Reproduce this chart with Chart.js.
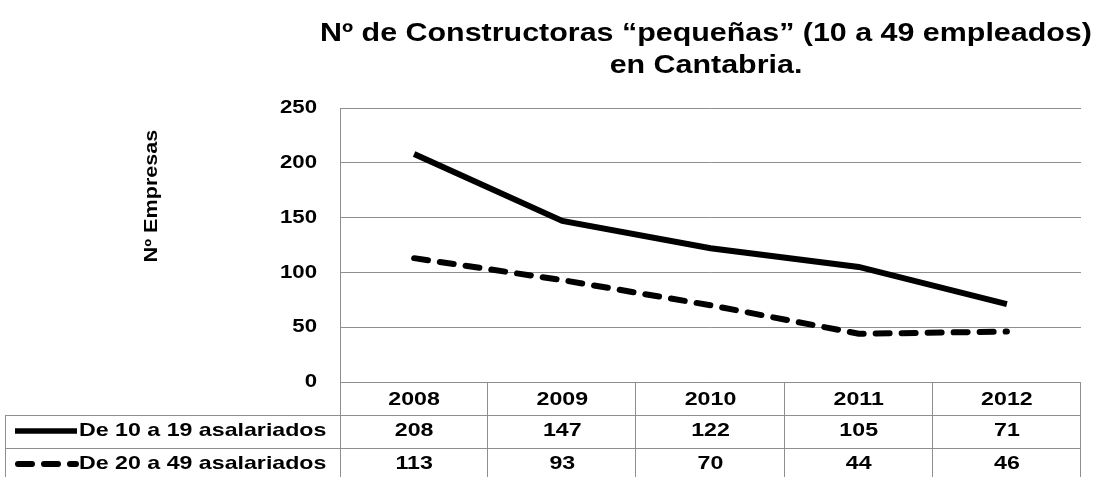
<!DOCTYPE html>
<html>
<head>
<meta charset="utf-8">
<script src="https://cdn.jsdelivr.net/npm/chart.js@4.4.0/dist/chart.umd.min.js"></script>
<style>
  html, body { margin: 0; padding: 0; background: #fff; }
  canvas { display: block; }
</style>
</head>
<body>
<canvas id="constructoras" width="1099" height="477"></canvas>
<script>
const years = ['2008', '2009', '2010', '2011', '2012'];
const de10a19 = [208, 147, 122, 105, 71];
const de20a49 = [113, 93, 70, 44, 46];
const seriesNames = ['De 10 a 19 asalariados', 'De 20 a 49 asalariados'];
const titleLines = ['Nº de Constructoras \u201cpeque\u00f1as\u201d (10 a 49 empleados)', 'en Cantabria.'];
const yTitle = 'Nº Empresas';

const FONT = '"Liberation Sans", Arial, sans-serif';
const GRID = '#8e8e8e';
const DASH = [14, 12];
const SX = 1.22;

// stretched text, the picture is wider than the original font
function sText(ctx, txt, x, y, align, sx) {
    ctx.save();
    ctx.translate(x, y);
    ctx.scale(sx, 1);
    ctx.textAlign = align;
    ctx.fillText(txt, 0, 0);
    ctx.restore();
}

function line(ctx, x1, y1, x2, y2) {
    ctx.beginPath();
    ctx.moveTo(x1, y1);
    ctx.lineTo(x2, y2);
    ctx.stroke();
}

const tablePlugin = {
    id: 'tablePlugin',
    afterDraw(chart) {
        const ctx = chart.ctx;
        const area = chart.chartArea;
        const xs = chart.scales.x;
        const ys = chart.scales.y;
        const colW = (area.right - area.left) / years.length;
        const row1 = area.bottom + 33;
        const row2 = area.bottom + 66;
        const bottom = chart.height;
        const left = 5;

        ctx.save();
        ctx.fillStyle = '#000';

        // title
        ctx.textBaseline = 'alphabetic';
        ctx.font = 'bold 26px ' + FONT;
        sText(ctx, titleLines[0], 706, 41, 'center', 1.17);
        sText(ctx, titleLines[1], 706, 73, 'center', 1.17);

        ctx.textBaseline = 'middle';
        // y title
        ctx.save();
        ctx.translate(152, 196);
        ctx.rotate(-Math.PI / 2);
        ctx.font = 'bold 18px ' + FONT;
        sText(ctx, yTitle, 0, 0, 'center', 1.2);
        ctx.restore();

        // y tick labels
        ctx.font = 'bold 19px ' + FONT;
        ys.ticks.forEach(t => {
            sText(ctx, String(t.value), area.left - 23, ys.getPixelForValue(t.value), 'right', 1.17);
        });

        // table grid
        ctx.strokeStyle = GRID;
        ctx.lineWidth = 1;
        line(ctx, area.left + 0.5, area.top, area.left + 0.5, bottom);
        line(ctx, area.left, area.bottom + 0.5, area.right, area.bottom + 0.5);
        line(ctx, left, row1 + 0.5, area.right, row1 + 0.5);
        line(ctx, left, row2 + 0.5, area.right, row2 + 0.5);
        line(ctx, left + 0.5, row1, left + 0.5, bottom);
        for (let i = 1; i <= years.length; i++) {
            const x = Math.round(area.left + colW * i) - 0.5;
            line(ctx, x, area.bottom, x, bottom);
        }

        // table values
        years.forEach((yr, i) => {
            const cx = xs.getPixelForValue(i);
            sText(ctx, yr, cx, area.bottom + 18, 'center', SX);
            sText(ctx, String(de10a19[i]), cx, row1 + 16, 'center', SX);
            sText(ctx, String(de20a49[i]), cx, row2 + 16, 'center', SX);
        });

        // legend keys
        sText(ctx, seriesNames[0], 79, row1 + 16, 'left', SX);
        sText(ctx, seriesNames[1], 79, row2 + 16, 'left', SX);
        ctx.strokeStyle = '#000';
        ctx.lineWidth = 5.5;
        line(ctx, 15, row1 + 16, 77, row1 + 16);
        ctx.lineWidth = 6;
        ctx.lineCap = 'round';
        ctx.setLineDash(DASH);
        line(ctx, 18, row2 + 16, 76, row2 + 16);
        ctx.restore();
    }
};

new Chart(document.getElementById('constructoras').getContext('2d'), {
    type: 'line',
    data: {
        labels: years,
        datasets: [
            {
                label: seriesNames[0],
                data: de10a19,
                borderColor: '#000',
                borderWidth: 6,
                pointRadius: 0,
                tension: 0
            },
            {
                label: seriesNames[1],
                data: de20a49,
                borderColor: '#000',
                borderWidth: 6,
                borderDash: DASH,
                borderCapStyle: 'round',
                pointRadius: 0,
                tension: 0
            }
        ]
    },
    options: {
        responsive: false,
        animation: false,
        layout: { padding: { top: 108, right: 18, left: 0, bottom: 0 } },
        plugins: {
            legend: { display: false },
            title: { display: false },
            tooltip: { enabled: false }
        },
        scales: {
            x: {
                offset: true,
                grid: { display: false },
                border: { display: false },
                ticks: { display: false },
                afterFit: s => { s.height = 95; }
            },
            y: {
                min: 0,
                max: 250,
                ticks: { display: false, stepSize: 50 },
                grid: { color: GRID, drawTicks: false },
                border: { display: false },
                afterFit: s => { s.width = 340; }
            }
        }
    },
    plugins: [tablePlugin]
});
</script>
</body>
</html>
